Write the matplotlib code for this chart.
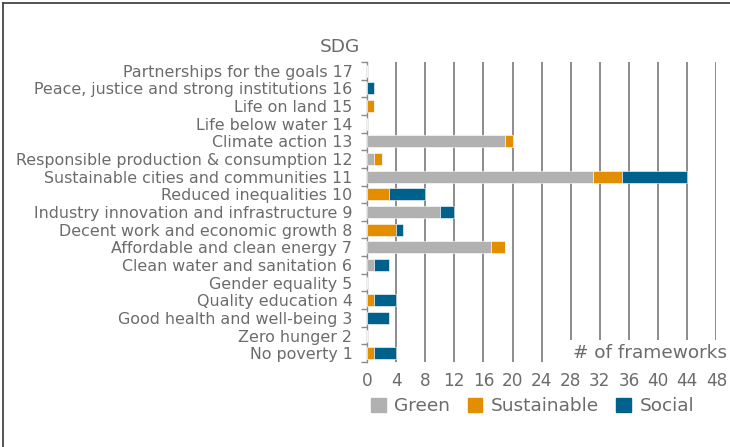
import matplotlib
matplotlib.use("Agg")
import matplotlib.pyplot as plt
from matplotlib.lines import Line2D
from matplotlib.patches import Patch
import numpy as np

sdg_labels = [
    "No poverty 1", "Zero hunger 2", "Good health and well-being 3",
    "Quality education 4", "Gender equality 5", "Clean water and sanitation 6",
    "Affordable and clean energy 7", "Decent work and economic growth 8",
    "Industry innovation and infrastructure 9", "Reduced inequalities 10",
    "Sustainable cities and communities 11",
    "Responsible production & consumption 12", "Climate action 13",
    "Life below water 14", "Life on land 15",
    "Peace, justice and strong institutions 16", "Partnerships for the goals 17",
]
green = [0, 0, 0, 0, 0, 1, 17, 0, 10, 0, 31, 1, 19, 0, 0, 0, 0]
sustainable = [1, 0, 0, 1, 0, 0, 2, 4, 0, 3, 4, 1, 1, 0, 1, 0, 0]
social = [3, 0, 3, 3, 0, 2, 0, 1, 2, 5, 9, 0, 0, 0, 0, 1, 0]
x_ticks = list(range(0, 49, 4))

txt = "#6b6b6b"
fs_y = 11.4
fs_x = 12.2
fs_big = 13.3

fig = plt.figure(figsize=(7.3, 4.47), dpi=100)
ax = fig.add_axes([367 / 730, 1 - 362 / 447, 349.4 / 730, 300 / 447])

y = np.arange(len(sdg_labels))
g = np.array(green)
s = np.array(sustainable)
c = np.array(social)
h = 0.68
ax.barh(y, g, height=h, color="#b1b1b1", edgecolor="white", linewidth=0.4, zorder=3)
ax.barh(y, s, left=g, height=h, color="#e38e00", edgecolor="white", linewidth=0.4, zorder=3)
ax.barh(y, c, left=g + s, height=h, color="#00628c", edgecolor="white", linewidth=0.4, zorder=3)

ax.set_xlim(0, 48)
ax.set_ylim(-0.5, len(sdg_labels) - 0.5)
ax.set_xticks(x_ticks)
ax.set_xticklabels([str(v) for v in x_ticks])
ax.set_yticks(y)
ax.set_yticklabels(sdg_labels)
ax.set_yticks(np.arange(-0.5, len(sdg_labels)), minor=True)

ax.tick_params(axis="x", length=0, pad=7, labelsize=fs_x, labelcolor=txt)
ax.tick_params(axis="y", which="major", length=0, pad=10.5, labelsize=fs_y, labelcolor=txt)
ax.tick_params(axis="y", which="minor", length=4, width=1, color="#8a8a8a", direction="out")

ax.set_axisbelow(True)
ax.grid(axis="x", color="#8c8c8c", linewidth=1.4)
for sp in ["top", "right", "bottom"]:
    ax.spines[sp].set_visible(False)
ax.spines["left"].set_color("#8a8a8a")
ax.spines["left"].set_linewidth(1)

fig.text(360 / 730, 1 - 47 / 447, "SDG", ha="right", va="center", fontsize=fs_big, color=txt)
ax.text(1.03, 0.03, "# of frameworks", transform=ax.transAxes, ha="right",
        va="center", fontsize=fs_big, color=txt, zorder=6,
        bbox=dict(facecolor="white", edgecolor="none", pad=3))

handles = [Patch(color="#b1b1b1", label="Green"),
           Patch(color="#e38e00", label="Sustainable"),
           Patch(color="#00628c", label="Social")]
fig.legend(handles=handles, loc="center", bbox_to_anchor=(532.5 / 730, 1 - 406 / 447),
           ncol=3, frameon=False, fontsize=fs_big, labelcolor=txt,
           handlelength=0.8, handleheight=0.8, handletextpad=0.45, columnspacing=0.95)

# outer frame (top and left edges)
fig.add_artist(Line2D([2.5 / 730, 2.5 / 730], [0, 1 - 2.5 / 447], color="#444444", linewidth=1.3))
fig.add_artist(Line2D([2.5 / 730, 1], [1 - 2.5 / 447, 1 - 2.5 / 447], color="#444444", linewidth=1.3))

fig.savefig("out.png", dpi=100)
